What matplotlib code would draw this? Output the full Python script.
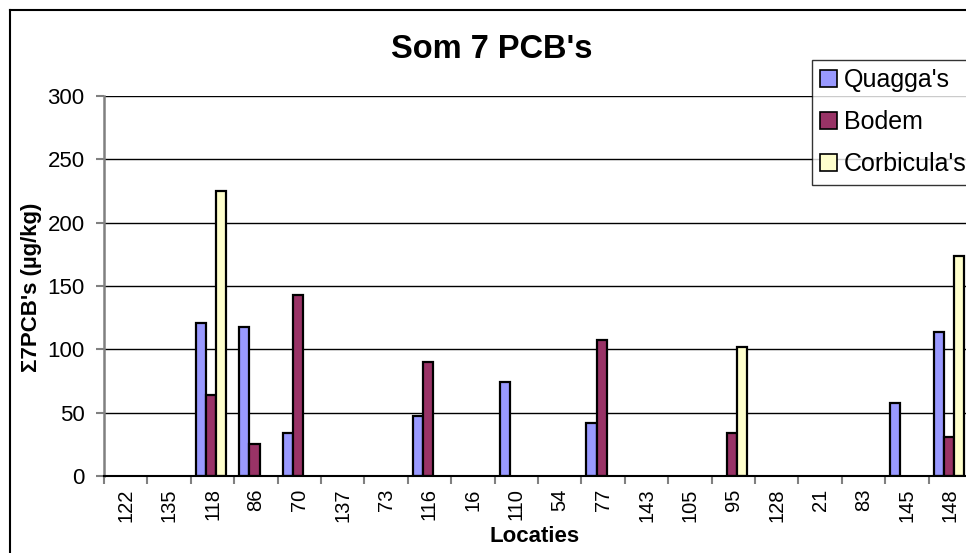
import numpy as np
import matplotlib
matplotlib.use("Agg")
import matplotlib.pyplot as plt
from matplotlib.lines import Line2D

plt.rcParams['font.family'] = ['Liberation Sans', 'DejaVu Sans']

categories = ['122', '135', '118', '86', '70', '137', '73', '116', '16', '110',
              '54', '77', '143', '105', '95', '128', '21', '83', '145', '148']
quagga = [None, None, 121, 118, 34, None, None, 47, None, 74,
          None, 42, None, None, None, None, None, None, 58, 114]
bodem = [None, None, 64, 25, 143, None, None, 90, None, None,
         None, 107, None, None, 34, None, None, None, None, 31]
corbicula = [None, None, 225, None, None, None, None, None, None, None,
             None, None, None, None, 102, None, None, None, None, 174]
series_names = ["Quagga's", "Bodem", "Corbicula's"]
colors = ['#9999FF', '#993366', '#FFFFCC']
yticks = [0, 50, 100, 150, 200, 250, 300]

W, H = 966, 553
fig = plt.figure(figsize=(W / 100, H / 100), dpi=100)
fig.patch.set_facecolor('white')

ax_left, ax_right, ax_top, ax_bot = 104, 972, 96, 476
ax = fig.add_axes([ax_left / W, 1 - ax_bot / H, (ax_right - ax_left) / W, (ax_bot - ax_top) / H])

n = len(categories)
x = np.arange(n)
width = 0.235
offsets = [-width, 0, width]
handles = []
for vals, off, col, name in zip([quagga, bodem, corbicula], offsets, colors, series_names):
    xs = [xi + off - 0.03 for xi, v in zip(x, vals) if v is not None]
    hs = [v for v in vals if v is not None]
    ax.bar(xs, hs, width=width, color=col, edgecolor='black', linewidth=1.6, zorder=3)
    handles.append(plt.Rectangle((0, 0), 1, 1, facecolor=col, edgecolor='black', linewidth=1.2))

ax.set_xlim(-0.5, n - 0.5)
ax.set_ylim(0, 300)
ax.set_yticks(yticks)
ax.set_yticklabels([str(t) for t in yticks], fontsize=16)
ax.grid(axis='y', color='black', linewidth=1.0, zorder=0)
ax.set_axisbelow(True)

ax.set_xticks(np.arange(-0.5, n, 1.0))
ax.set_xticklabels([])
ax.set_xticks(x, minor=True)
ax.set_xticklabels(categories, minor=True, rotation=90, fontsize=14.5)
ax.tick_params(axis='x', which='minor', length=0, pad=9)
ax.tick_params(axis='x', which='major', length=6, width=1.5, color='#808080', direction='out')
ax.tick_params(axis='y', length=6, width=1.5, color='#808080', direction='out', pad=8)

for s in ['top', 'right']:
    ax.spines[s].set_visible(False)
ax.spines['left'].set_color('#808080')
ax.spines['left'].set_linewidth(1.8)
ax.spines['bottom'].set_color('black')
ax.spines['bottom'].set_linewidth(1.5)
ax.spines['bottom'].set_zorder(4)

fig.text(492 / W, 1 - 50 / H, "Som 7 PCB's", fontsize=23.5, fontweight='bold', ha='center', va='center')
fig.text(31 / W, 1 - 287 / H, "Σ7PCB's (µg/kg)", fontsize=16, fontweight='bold', rotation=90,
         ha='center', va='center')
fig.text(535 / W, 1 - 537 / H, "Locaties", fontsize=16, fontweight='bold', ha='center', va='center')

leg = fig.legend(handles, series_names, loc='upper left', bbox_to_anchor=(812 / W, 1 - 60 / H),
                 bbox_transform=fig.transFigure, fontsize=18, frameon=True, fancybox=False,
                 handlelength=0.65, handleheight=0.65, handletextpad=0.3, labelspacing=0.72,
                 borderpad=0.33, borderaxespad=0, edgecolor='black')
leg.get_frame().set_linewidth(1.0)

# outer chart frame
fig.add_artist(Line2D([10 / W, 10 / W], [1 - 10 / H, -0.1], transform=fig.transFigure,
                      color='black', linewidth=1.5))
fig.add_artist(Line2D([10 / W, 1.1], [1 - 10 / H, 1 - 10 / H], transform=fig.transFigure,
                      color='black', linewidth=1.5))

fig.savefig('out.png', dpi=100)
